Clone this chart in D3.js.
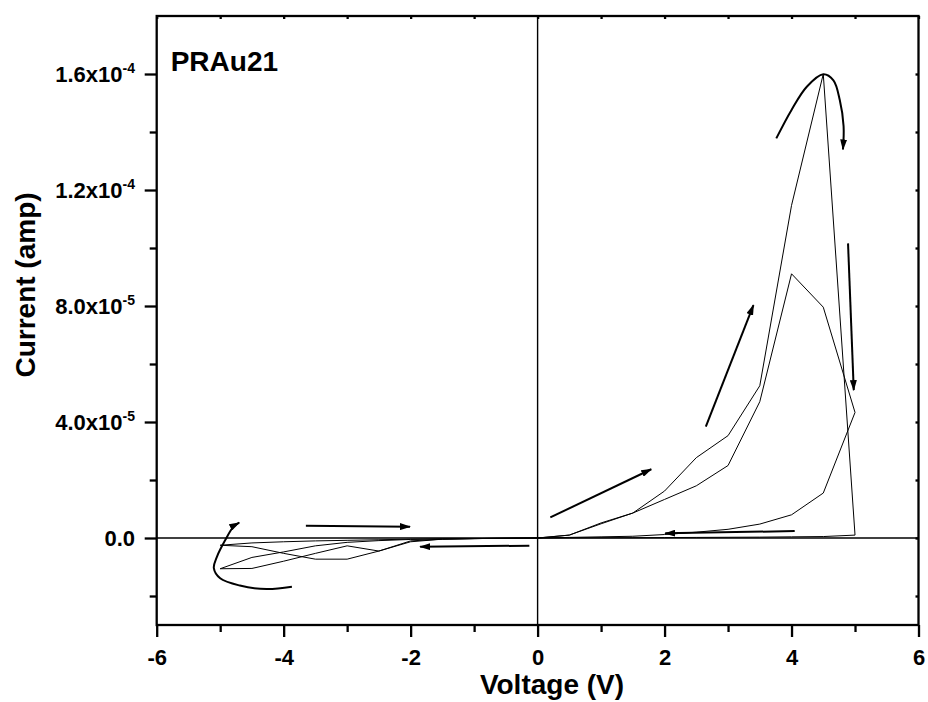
<!DOCTYPE html>
<html>
<head>
<meta charset="utf-8">
<script src="https://cdn.jsdelivr.net/npm/d3@7"></script>
<style>
  html, body { margin: 0; padding: 0; background: #fff; }
  svg { display: block; font-family: "Liberation Sans", Arial, sans-serif; font-weight: bold; }
</style>
</head>
<body>
<div id="chart"></div>
<script>
// sweep voltage (V): 0 -> +5 -> 0 -> -5 -> 0, same for both cycles
const voltage = [0, 0.5, 1, 1.5, 2, 2.5, 3, 3.5, 4, 4.5, 5,
                 4.5, 4, 3.5, 3, 2.5, 2, 1.5, 1, 0.5, 0,
                 -0.5, -1, -1.5, -2, -2.5, -3, -3.5, -4, -4.5, -5,
                 -4.5, -4, -3.5, -3, -2.5, -2, -1.5, -1, -0.5, 0];

// current in microamps
const currentCycle1 = [0, 1.0, 4.9, 8.6, 16.2, 27.7, 35.3, 52.5, 114.7, 160.0, 1.0,
                       0.5, 0.4, 0.3, 0.25, 0.2, 0.15, 0.1, 0.08, 0.05, 0,
                       -0.1, -0.2, -0.4, -1.3, -4.5, -7.3, -7.3, -5.3, -3.0, -2.5,
                       -1.7, -1.3, -1.0, -0.8, -0.6, -0.4, -0.3, -0.2, -0.1, 0];
const currentCycle2 = [0, 1.0, 5.2, 8.6, 13.3, 18.0, 25.0, 47.0, 91.1, 79.6, 43.3,
                       15.5, 8.0, 4.8, 3.0, 2.0, 1.2, 0.6, 0.4, 0.2, 0,
                       -0.1, -0.2, -0.4, -1.0, -4.5, -2.7, -5.3, -8.0, -10.5, -10.6,
                       -6.7, -4.8, -2.7, -1.5, -0.9, -0.5, -0.3, -0.2, -0.1, 0];

const xTicks = [-6, -4, -2, 0, 2, 4, 6];
const xMinorTicks = [-5, -3, -1, 1, 3, 5];
const yTicks = [0, 40, 80, 120, 160];          // µA
const yMinorTicks = [-20, 20, 60, 100, 140];

const sampleLabel = "PRAu21";
const xTitle = "Voltage (V)";
const yTitle = "Current (amp)";

// sweep direction arrows: [V tail, I tail, V head, I head] (µA)
const arrows = [
    [0.20, 7.1, 1.79, 23.7],
    [2.65, 38.4, 3.40, 80.3],
    [4.89, 101.6, 4.98, 51.0],
    [4.05, 2.4, 2.01, 1.6],
    [-0.13, -2.65, -1.85, -3.0],
    [-3.65, 4.2, -2.01, 3.9]
];
// curved arrows around the turning points
const peakArrow = [[3.76, 137.8], [4.0, 147.6], [4.24, 155.6], [4.5, 159.9], [4.66, 157.8],
                   [4.76, 151.0], [4.82, 142.0], [4.81, 134.0]];
const negArrow = [[-3.87, -16.8], [-4.27, -17.6], [-4.69, -16.4], [-5.0, -13.9], [-5.10, -10.4],
                  [-5.05, -6.4], [-4.92, -0.7], [-4.79, 3.9], [-4.70, 5.3]];

(function() {
    const width = 928, height = 702;
    const left = 156.7, right = 918.5, top = 16, bottom = 625;

    const x = d3.scaleLinear().domain([-6, 6]).range([left, right]);
    const y = d3.scaleLinear().domain([-30, 180]).range([bottom, top]);

    const svg = d3.select("#chart")
        .append("svg")
        .attr("width", width)
        .attr("height", height);

    svg.append("defs").append("marker")
        .attr("id", "head")
        .attr("viewBox", "0 0 11 7")
        .attr("refX", 10)
        .attr("refY", 3.5)
        .attr("markerUnits", "userSpaceOnUse")
        .attr("markerWidth", 11)
        .attr("markerHeight", 7)
        .attr("orient", "auto")
        .append("path")
        .attr("d", "M0,0L11,3.5L0,7Z")
        .attr("fill", "#000");

    // zero lines
    svg.append("line")
        .attr("x1", left).attr("x2", right)
        .attr("y1", y(0)).attr("y2", y(0))
        .attr("stroke", "#000").attr("stroke-width", 1.6);
    svg.append("line")
        .attr("x1", x(0)).attr("x2", x(0))
        .attr("y1", top).attr("y2", bottom)
        .attr("stroke", "#000").attr("stroke-width", 1.4);

    // data
    const line = d3.line()
        .x(d => x(d[0]))
        .y(d => y(d[1]));

    [currentCycle1, currentCycle2].forEach(cur => {
        svg.append("path")
            .datum(voltage.map((v, i) => [v, cur[i]]))
            .attr("d", line)
            .attr("fill", "none")
            .attr("stroke", "#000")
            .attr("stroke-width", 1)
            .attr("stroke-linejoin", "miter");
    });

    // arrows
    svg.append("g")
        .selectAll("line")
        .data(arrows)
        .join("line")
        .attr("x1", d => x(d[0]))
        .attr("y1", d => y(d[1]))
        .attr("x2", d => x(d[2]))
        .attr("y2", d => y(d[3]))
        .attr("stroke", "#000")
        .attr("stroke-width", 2)
        .attr("marker-end", "url(#head)");

    const curve = d3.line()
        .x(d => x(d[0]))
        .y(d => y(d[1]))
        .curve(d3.curveCatmullRom);

    [peakArrow, negArrow].forEach(pts => {
        svg.append("path")
            .attr("d", curve(pts))
            .attr("fill", "none")
            .attr("stroke", "#000")
            .attr("stroke-width", 2)
            .attr("marker-end", "url(#head)");
    });

    // axes
    function styleAxis(g) {
        g.select(".domain").remove();
        g.selectAll(".tick line").attr("stroke", "#000").attr("stroke-width", 2.3);
        g.selectAll(".tick text").attr("fill", "#000").attr("font-size", 22).attr("font-family", null);
    }

    svg.append("g")
        .attr("transform", `translate(0,${bottom})`)
        .call(d3.axisBottom(x).tickValues(xTicks).tickSize(12).tickPadding(12).tickFormat(d => d))
        .call(styleAxis);
    svg.append("g")
        .attr("transform", `translate(0,${bottom})`)
        .call(d3.axisBottom(x).tickValues(xMinorTicks).tickSize(7).tickFormat(""))
        .call(styleAxis);

    const yAxis = svg.append("g")
        .attr("transform", `translate(${left},0)`)
        .call(d3.axisLeft(y).tickValues(yTicks).tickSize(12).tickPadding(9.7).tickFormat(""))
        .call(styleAxis);
    svg.append("g")
        .attr("transform", `translate(${left},0)`)
        .call(d3.axisLeft(y).tickValues(yMinorTicks).tickSize(7).tickFormat(""))
        .call(styleAxis);

    // y tick labels like 1.6x10^-4
    yAxis.selectAll(".tick text").each(function(d) {
        const t = d3.select(this).text("");
        if (d === 0) {
            t.text("0.0");
            return;
        }
        const a = d * 1e-6;
        const e = Math.floor(Math.log10(a));
        t.append("tspan").text((a / Math.pow(10, e)).toFixed(1) + "x10");
        t.append("tspan").attr("dy", -9).attr("font-size", 14).text(e);
    });

    // mirror axes
    svg.append("g")
        .attr("transform", `translate(${right},0)`)
        .call(d3.axisLeft(y).tickValues(yTicks.concat(yMinorTicks)).tickSize(3).tickFormat(""))
        .call(styleAxis);
    svg.append("g")
        .attr("transform", `translate(0,${top})`)
        .call(d3.axisBottom(x).tickValues(xTicks.concat(xMinorTicks)).tickSize(3).tickFormat(""))
        .call(styleAxis);

    svg.append("rect")
        .attr("x", left).attr("y", top)
        .attr("width", right - left).attr("height", bottom - top)
        .attr("fill", "none")
        .attr("stroke", "#000")
        .attr("stroke-width", 2.3);

    // titles
    svg.append("text")
        .attr("x", 552).attr("y", 694)
        .attr("text-anchor", "middle")
        .attr("font-size", 28)
        .text(xTitle);

    svg.append("text")
        .attr("transform", "translate(35,285) rotate(-90)")
        .attr("text-anchor", "middle")
        .attr("font-size", 28)
        .text(yTitle);

    svg.append("text")
        .attr("x", 170.7).attr("y", 71)
        .attr("font-size", 28)
        .text(sampleLabel);
})();
</script>
</body>
</html>
